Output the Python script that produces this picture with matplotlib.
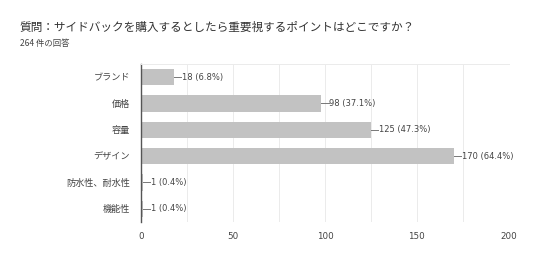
import matplotlib.pyplot as plt
import numpy as np

plt.rcParams['font.family'] = ['Noto Sans CJK JP', 'DejaVu Sans']

categories = ['ブランド', '価格', '容量', 'デザイン', '防水性、耐水性', '機能性']
counts = [18, 98, 125, 170, 1, 1]
percents = [6.8, 37.1, 47.3, 64.4, 0.4, 0.4]
total = 264

fig = plt.figure(figsize=(5.54, 2.69), dpi=100)
ax = fig.add_axes([0.2545, 0.175, 0.664, 0.587])

y = np.arange(len(categories))
ax.barh(y, counts, height=0.62, color='#c2c2c2', zorder=2)

for yi, c, p in zip(y, counts, percents):
    ax.plot([c, c + 4], [yi, yi], color='#777777', lw=0.7, zorder=3)
    ax.text(c + 4.3, yi, f'{c} ({p}%)', va='center', ha='left',
            fontsize=6, color='#444444', family='DejaVu Sans')

ax.set_ylim(len(categories) - 0.5, -0.5)
ax.set_xlim(0, 200)
ax.set_yticks(y)
ax.set_yticklabels(categories, fontsize=6.6, color='#444444')
ax.set_xticks([0, 50, 100, 150, 200])
ax.set_xticklabels(['0', '50', '100', '150', '200'], fontsize=6.3,
                   color='#444444', family='DejaVu Sans')
ax.set_xticks(np.arange(0, 201, 25), minor=True)
ax.grid(axis='x', which='both', color='#ebebeb', lw=0.7, zorder=0)
ax.tick_params(which='both', length=0, pad=8)
ax.tick_params(axis='x', pad=7)
for s in ['right', 'bottom']:
    ax.spines[s].set_visible(False)
ax.spines['top'].set_color('#ebebeb')
ax.spines['top'].set_linewidth(0.7)
ax.spines['left'].set_color('#555555')
ax.spines['left'].set_linewidth(1.0)
ax.axhline(len(categories) - 0.5, color='#ebebeb', lw=0.7, zorder=0)

fig.text(0.036, 0.9, '質問：サイドバックを購入するとしたら重要視するポイントはどこですか？',
         fontsize=8.4, color='#333333', va='center')
fig.text(0.036, 0.838, f'{total} 件の回答', fontsize=6, color='#444444', va='center')

fig.savefig('out.png', dpi=100)
